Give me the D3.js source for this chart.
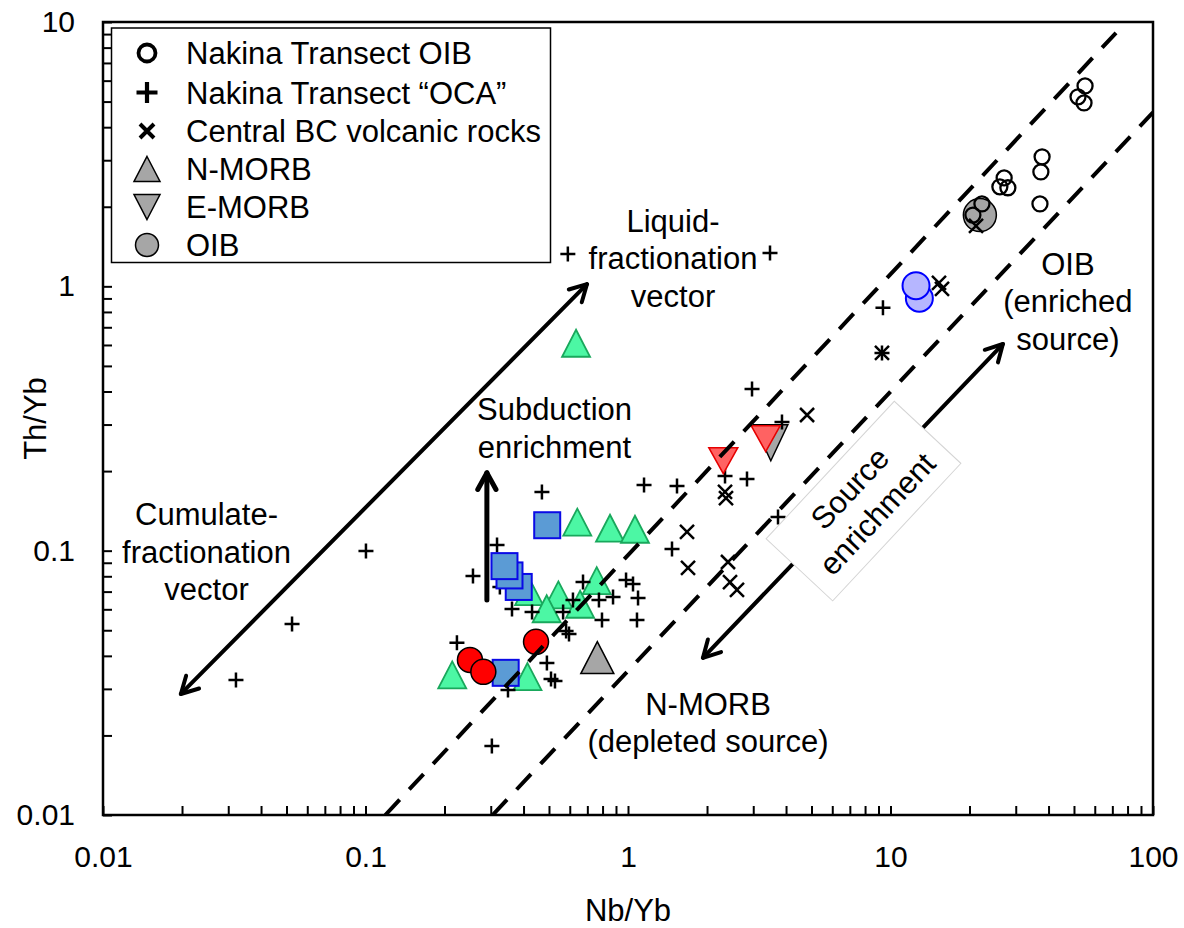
<!DOCTYPE html>
<html><head><meta charset="utf-8">
<script src="https://cdn.jsdelivr.net/npm/d3@7"></script>
<style>
body{margin:0;background:#fff;}
text{font-family:"Liberation Sans",Arial,sans-serif;fill:#000;}
</style></head><body>
<svg id="c" width="1184" height="928"></svg>
<script>
// ---------------- DATA ----------------
const xTickLabels = ["0.01","0.1","1","10","100"];
const yTickLabels = ["0.01","0.1","1","10"];
const legendLabels = ["Nakina Transect OIB","Nakina Transect \u201COCA\u201D","Central BC volcanic rocks","N-MORB","E-MORB","OIB"];

// Nakina Transect OIB (open circles)
const oibNb = [55.1,51.8,54.6,37.8,37.4,37.1,27.1,26.1,28.0,22.3,20.6];
const oibTh = [5.73,5.21,4.94,3.09,2.71,2.05,2.57,2.38,2.36,2.05,1.86];
// Nakina Transect "OCA" (plus)
const ocaNb = [0.590,3.475,9.36,9.28,2.968,3.86,2.342,2.84,1.537,1.151,1.471,3.728,0.470,0.317,0.2567,0.674,0.983,1.045,0.877,1.092,0.775,0.3615,0.431,0.796,1.082,0.566,0.581,0.596,0.617,0.223,0.491,0.509,0.527,0.349,0.303,0.1004,0.0525,0.0321,0.325];
const ocaTh = [1.326,1.338,0.829,0.560,0.409,0.307,0.1917,0.1868,0.1757,0.1772,0.1015,0.134,0.1668,0.1051,0.0802,0.0761,0.0775,0.0748,0.0668,0.0662,0.0651,0.0602,0.0586,0.0547,0.0547,0.0586,0.0497,0.0484,0.0651,0.0448,0.0376,0.0327,0.0321,0.0297,0.01825,0.0997,0.0528,0.0324,0.0729];
// Central BC volcanic rocks (x)
const bcNb = [4.81,2.342,2.362,1.678,1.693,2.404,2.447,2.601,9.28,15.30,15.71,21.17];
const bcTh = [0.326,0.1668,0.1582,0.1177,0.086,0.0906,0.0761,0.0710,0.560,1.030,0.978,1.692];
// green triangles
const grNb = [0.641,0.854,1.063,0.760,0.543,0.420,0.490,0.657,0.214,0.414,0.634];
const grTh = [0.1282,0.1216,0.1205,0.0770,0.0680,0.0700,0.0603,0.0627,0.0339,0.0334,0.609];
// blue squares
const sqNb = [0.3835,0.3536,0.3384,0.4923,0.342];
const sqTh = [0.0729,0.0806,0.0874,0.1248,0.0345];
// red circles
const rcNb = [0.250,0.2811,0.4463];
const rcTh = [0.0386,0.0348,0.0452];
// red down triangles
const rtNb = [2.307,3.346];
const rtTh = [0.219,0.2653];
// light blue circles
const lbNb = [12.88,12.51];
const lbTh = [0.9016,1.006];
// reference compositions
const refNames = ["N-MORB","E-MORB","OIB"];
const refNb = [0.764,3.5,21.9];
const refTh = [0.0394,0.256,1.86];
// dashed MORB-OIB array boundaries
const upperLine = [[0.119,0.01],[72.3,9.1]];
const lowerLine = [[0.305,0.01],[100,4.55]];
// vectors
const fracVector = [[0.0198,0.0287],[0.698,1.02]];
const subVector = [[0.29,0.065],[0.29,0.197]];
const srcVector = [[1.93,0.0393],[26.8,0.605]];

// annotation anchors (data space)
const annLiquid = {x:1.484,y:1.606,lines:["Liquid-","fractionation","vector"]};
const annCumulate = {x:0.0248,y:0.125,lines:["Cumulate-","fractionation","vector"]};
const annSubduction = {x:0.525,y:0.312,lines:["Subduction","enrichment"]};
const annOIB = {x:47.4,y:1.104,lines:["OIB","(enriched","source)"]};
const annNMORB = {x:2.018,y:0.0239,lines:["N-MORB","(depleted source)"]};
const annSource = {x:7.89,y:0.154,lines:["Source","enrichment"]};

// ---------------- CHART ----------------
const L=103,R=1153,T=22,B=815;
const svg=d3.select("#c");
const x=d3.scaleLog().domain([0.01,100]).range([L,R]);
const y=d3.scaleLog().domain([0.01,10]).range([B,T]);
const zip=(a,b)=>a.map((v,i)=>[v,b[i]]);

svg.append("defs").append("clipPath").attr("id","clip")
  .append("rect").attr("x",L).attr("y",T).attr("width",R-L).attr("height",B-T);

const isDec=d=>Math.abs(Math.log10(d)-Math.round(Math.log10(d)))<1e-6;
const xAxis=d3.axisBottom(x).tickValues(x.ticks()).tickSize(-9).tickPadding(31)
  .tickFormat(d=>isDec(d)?xTickLabels[Math.round(Math.log10(d))+2]:"");
const yAxis=d3.axisLeft(y).tickValues(y.ticks()).tickSize(-9).tickPadding(28)
  .tickFormat(d=>isDec(d)?yTickLabels[Math.round(Math.log10(d))+2]:"");
const gx=svg.append("g").attr("transform",`translate(0,${B})`).call(xAxis);
const gy=svg.append("g").attr("transform",`translate(${L},0)`).call(yAxis);
[gx,gy].forEach(g=>{
  g.select(".domain").remove();
  g.selectAll(".tick line").attr("stroke","#000").attr("stroke-width",2);
  g.selectAll(".tick text").attr("font-size",30).attr("font-family",'"Liberation Sans",Arial,sans-serif').attr("fill","#000");
});

const plot=svg.append("g").attr("clip-path","url(#clip)");
const tri=(w,h)=>`M0,${-h/2}L${w/2},${h/2}L${-w/2},${h/2}Z`;
const triD=(w,h)=>`M0,${h/2}L${w/2},${-h/2}L${-w/2},${-h/2}Z`;
const plus=s=>`M${-s},0H${s}M0,${-s}V${s}`;
const cross=s=>`M${-s},${-s}L${s},${s}M${-s},${s}L${s},${-s}`;
const tr=d=>`translate(${x(d[0])},${y(d[1])})`;

// reference compositions
plot.append("path").attr("d",tri(33,32)).attr("transform",tr([refNb[0],refTh[0]]))
  .attr("fill","#a6a6a6").attr("stroke","#000").attr("stroke-width",1.5);
plot.append("path").attr("d",triD(34,36)).attr("transform",tr([refNb[1],refTh[1]]))
  .attr("fill","#a6a6a6").attr("stroke","#000").attr("stroke-width",1.5);
plot.append("circle").attr("r",16.5).attr("transform",tr([refNb[2],refTh[2]]))
  .attr("fill","#a6a6a6").attr("stroke","#000").attr("stroke-width",1.5);

// green triangles
plot.selectAll(".gt").data(zip(grNb,grTh)).join("path").attr("class","gt")
  .attr("d",tri(28,27)).attr("transform",tr)
  .attr("fill","#4cf7a4").attr("stroke","#19a85c").attr("stroke-width",1.8);
// OCA plus
plot.selectAll(".pl").data(zip(ocaNb,ocaTh)).join("path").attr("class","pl")
  .attr("d",plus(7.5)).attr("transform",tr).attr("stroke","#000").attr("stroke-width",2.5).attr("fill","none");
// Central BC x
plot.selectAll(".cx").data(zip(bcNb,bcTh)).join("path").attr("class","cx")
  .attr("d",cross(7)).attr("transform",tr).attr("stroke","#000").attr("stroke-width",2.5).attr("fill","none");
// blue squares
plot.selectAll(".sq").data(zip(sqNb,sqTh)).join("rect").attr("class","sq")
  .attr("x",-13).attr("y",-13).attr("width",26).attr("height",26).attr("transform",tr)
  .attr("fill","#5b9bd5").attr("stroke","#0a0ae6").attr("stroke-width",2);
// red circles
plot.selectAll(".rc").data(zip(rcNb,rcTh)).join("circle").attr("class","rc")
  .attr("r",12.5).attr("transform",tr).attr("fill","#ff0000").attr("stroke","#000").attr("stroke-width",1.5);
// red down triangles
plot.selectAll(".rt").data(zip(rtNb,rtTh)).join("path").attr("class","rt")
  .attr("d",triD(29,26)).attr("transform",tr).attr("fill","#ff6262").attr("stroke","#e60000").attr("stroke-width",1.5);
// light blue circles
plot.selectAll(".lb").data(zip(lbNb,lbTh)).join("circle").attr("class","lb")
  .attr("r",13.5).attr("transform",tr).attr("fill","#b6b6ff").attr("stroke","#0000ff").attr("stroke-width",2);
// Nakina OIB open circles
plot.selectAll(".oc").data(zip(oibNb,oibTh)).join("circle").attr("class","oc")
  .attr("r",7.5).attr("transform",tr).attr("fill","none").attr("stroke","#000").attr("stroke-width",2.3);

// dashed lines
const line=d3.line().x(d=>x(d[0])).y(d=>y(d[1]));
[upperLine,lowerLine].forEach(l=>plot.append("path").attr("d",line(l))
  .attr("stroke","#000").attr("stroke-width",4).attr("stroke-dasharray","21,14").attr("fill","none"));

// arrows
function arrow(pts,both,w){
  const p0=[x(pts[0][0]),y(pts[0][1])],p1=[x(pts[1][0]),y(pts[1][1])];
  const g=plot.append("g").attr("stroke","#000").attr("stroke-width",w).attr("fill","none")
    .attr("stroke-linecap","round").attr("stroke-linejoin","round");
  g.append("line").attr("x1",p0[0]).attr("y1",p0[1]).attr("x2",p1[0]).attr("y2",p1[1]);
  const head=(a,b)=>{
    const ang=Math.atan2(b[1]-a[1],b[0]-a[0]),len=19,sp=0.5;
    const q1=[b[0]-len*Math.cos(ang-sp),b[1]-len*Math.sin(ang-sp)];
    const q2=[b[0]-len*Math.cos(ang+sp),b[1]-len*Math.sin(ang+sp)];
    g.append("path").attr("d",`M${q1}L${b}L${q2}`);
  };
  head(p0,p1); if(both) head(p1,p0);
}
arrow(fracVector,true,4);
arrow(subVector,false,5);
arrow(srcVector,true,4);

// source enrichment box
const sx=x(annSource.x),sy=y(annSource.y);
const sg=svg.append("g").attr("transform",`translate(${sx},${sy}) rotate(-47)`);
sg.append("rect").attr("x",-94).attr("y",-45.5).attr("width",188).attr("height",91)
  .attr("fill","#fff").attr("stroke","#d4d4d4").attr("stroke-width",1);
sg.append("text").attr("text-anchor","middle").attr("font-size",31)
  .selectAll("tspan").data(annSource.lines).join("tspan")
  .attr("x",0).attr("y",(d,i)=>-8+i*37.5).text(d=>d);

// frame
svg.append("rect").attr("x",L).attr("y",T).attr("width",R-L).attr("height",B-T)
  .attr("fill","none").attr("stroke","#000").attr("stroke-width",2.5);

// annotations
function ann(a){
  svg.append("text").attr("text-anchor","middle").attr("font-size",31)
    .selectAll("tspan").data(a.lines).join("tspan")
    .attr("x",x(a.x)).attr("y",(d,i)=>y(a.y)+i*37.5).text(d=>d);
}
[annLiquid,annCumulate,annSubduction,annOIB,annNMORB].forEach(ann);

// axis titles
svg.append("text").attr("x",(L+R)/2).attr("y",921).attr("text-anchor","middle").attr("font-size",31).text("Nb/Yb");
svg.append("text").attr("transform",`translate(46,${(T+B)/2}) rotate(-90)`).attr("text-anchor","middle").attr("font-size",31).text("Th/Yb");

// legend
const lg=svg.append("g");
lg.append("rect").attr("x",111.5).attr("y",28).attr("width",439).attr("height",234.5)
  .attr("fill","#fff").attr("stroke","#000").attr("stroke-width",1.5);
const rowsY=[53,92.5,131,169,207,245];
const sxL=147;
lg.append("circle").attr("cx",sxL).attr("cy",rowsY[0]).attr("r",8.5).attr("fill","none").attr("stroke","#000").attr("stroke-width",3.8);
lg.append("path").attr("d",plus(10.5)).attr("transform",`translate(${sxL},${rowsY[1]})`).attr("stroke","#000").attr("stroke-width",4.2);
lg.append("path").attr("d",cross(7)).attr("transform",`translate(${sxL},${rowsY[2]})`).attr("stroke","#000").attr("stroke-width",4);
lg.append("path").attr("d",tri(26,25)).attr("transform",`translate(${sxL},${rowsY[3]})`).attr("fill","#a6a6a6").attr("stroke","#000").attr("stroke-width",1.5);
lg.append("path").attr("d",triD(26,25)).attr("transform",`translate(${sxL},${rowsY[4]})`).attr("fill","#a6a6a6").attr("stroke","#000").attr("stroke-width",1.5);
lg.append("circle").attr("cx",sxL).attr("cy",rowsY[5]).attr("r",11.5).attr("fill","#a6a6a6").attr("stroke","#000").attr("stroke-width",1.5);
lg.selectAll(".lt").data(legendLabels).join("text").attr("class","lt")
  .attr("x",186).attr("y",(d,i)=>rowsY[i]+11).attr("font-size",31).text(d=>d);
</script>
</body></html>
